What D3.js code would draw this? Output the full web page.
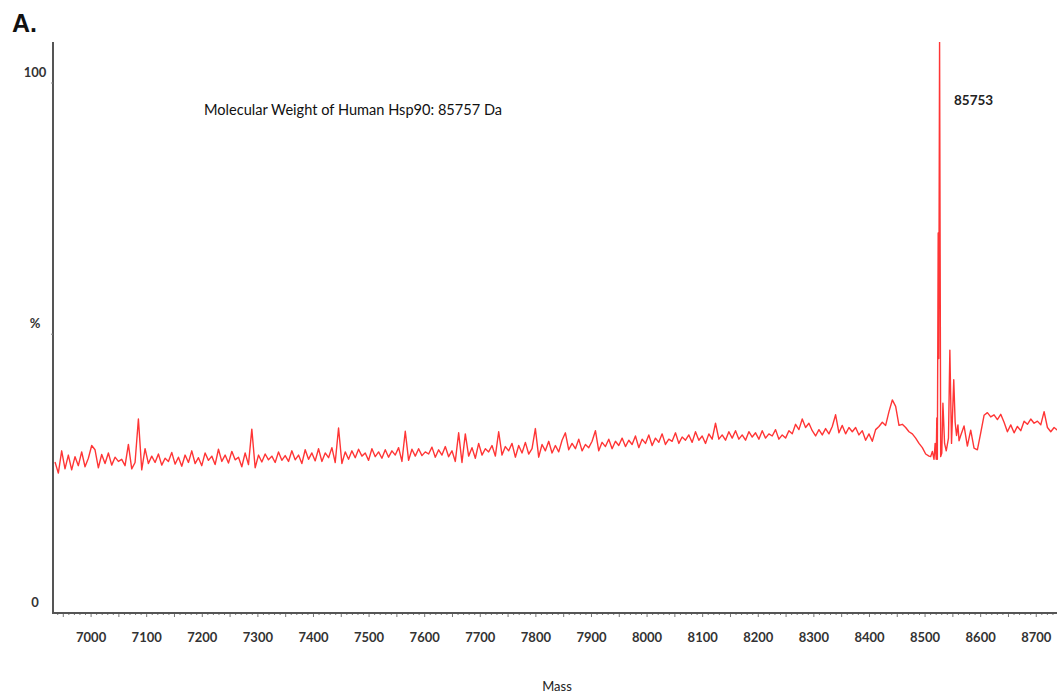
<!DOCTYPE html>
<html>
<head>
<meta charset="utf-8">
<script src="https://cdn.jsdelivr.net/npm/d3@7"></script>
<style>
    body { margin: 0; background: #fff; }
    svg { display: block; }
    .tick-label { font-family: Lato, "Open Sans", sans-serif; font-size: 13px; font-weight: bold; fill: #333; }
    .note { font-family: Lato, "Open Sans", sans-serif; font-size: 13px; fill: #222; }
</style>
</head>
<body>
<svg id="vis1" width="1057" height="695"></svg>
<script>
// mass labels along the bottom
const massTicks = [7000, 7100, 7200, 7300, 7400, 7500, 7600, 7700, 7800,
    7900, 8000, 8100, 8200, 8300, 8400, 8500, 8600, 8700];

// baseline noise, sampled every 6 Da from 6936 Da
var noiseStart = 6936,
    noiseStep = 6;
const noiseValues = [
    28.5, 26.4, 30.6, 27.2, 29.8, 27.0, 29.5, 27.8, 30.4, 27.6,
    29.2, 31.6, 30.8, 27.4, 29.9, 28.2, 30.2, 27.9, 29.4, 28.6,
    29.0, 27.8, 31.8, 27.2, 28.4, 36.6, 27.0, 31.0, 28.2, 29.6,
    28.4, 30.0, 27.9, 29.2, 28.6, 30.3, 28.1, 29.4, 27.7, 29.8,
    28.4, 30.6, 28.2, 29.3, 27.8, 30.2, 28.8, 29.6, 28.0, 30.9,
    28.6, 29.8, 28.3, 30.5, 28.9, 29.4, 27.6, 30.2, 28.0, 34.7,
    27.4, 29.8, 28.5, 30.0, 28.9, 29.6, 28.4, 30.4, 28.8, 29.7,
    28.6, 30.6, 28.9, 29.8, 28.2, 30.8, 29.0, 30.2, 28.7, 31.0,
    28.6, 30.2, 29.3, 31.2, 28.4, 34.9, 28.2, 30.4, 29.0, 30.6,
    29.3, 30.9, 29.6, 30.2, 28.8, 31.0, 29.5, 30.4, 29.2, 30.8,
    29.4, 30.6, 29.8, 31.2, 28.6, 34.3, 28.8, 30.9, 29.6, 31.0,
    29.7, 30.4, 30.0, 31.3, 29.4, 30.8, 29.8, 31.4, 29.5, 30.6,
    28.6, 34.0, 28.4, 33.8, 29.6, 31.2, 29.2, 32.0, 29.8, 31.0,
    30.4, 31.6, 29.6, 34.2, 29.8, 31.4, 30.6, 32.0, 29.4, 31.6,
    30.2, 32.2, 30.0, 31.0, 34.8, 29.4, 31.8, 30.6, 32.4, 30.2,
    31.6, 30.4, 32.6, 34.0, 30.8, 32.0, 31.0, 32.8, 30.6, 31.8,
    31.2, 32.4, 34.4, 30.6, 32.2, 31.4, 32.8, 31.0, 32.4, 31.6,
    33.0, 31.4, 32.6, 31.8, 33.4, 31.2, 32.8, 32.0, 33.6, 31.6,
    33.0, 32.2, 33.8, 31.8, 32.8, 32.4, 34.0, 32.0, 33.2, 32.6,
    33.6, 32.2, 34.2, 32.6, 33.4, 32.0, 33.8, 32.8, 35.8, 32.8,
    33.6, 32.6, 34.2, 33.0, 34.4, 32.8, 33.6, 32.6, 34.2, 33.2,
    34.0, 32.8, 34.4, 33.0, 33.8, 33.4, 34.6, 32.8, 33.6, 33.0,
    34.4, 33.8, 35.6, 34.6, 36.6, 35.0, 35.8, 34.4, 33.4, 34.6,
    33.6, 34.8, 33.8, 35.2, 37.4, 34.0, 35.4, 33.8, 35.0, 34.2,
    35.0, 33.6, 34.4, 32.6, 33.8, 32.4, 34.6, 35.2, 36.0, 35.4,
    38.0, 40.2, 39.0, 35.4, 35.6, 35.0, 34.2, 33.8, 33.0, 32.0,
    31.2, 30.0, 29.6
];

// the Hsp90 peak cluster, read point by point
const peakMass = [8511, 8514, 8517, 8519, 8521, 8522, 8523, 8524.5, 8525.5, 8527,
    8529, 8531, 8533, 8536, 8539, 8543, 8545.5, 8548.5, 8552.5, 8555,
    8557.5, 8560, 8562];
const peakValues = [29.5, 30.5, 29.0, 32.0, 29.0, 36.8, 29.0, 71.7, 48.0, 108,
    29.5, 30.2, 39.6, 32.0, 30.6, 33.0, 49.6, 32.0, 44.0, 36.0,
    33.5, 35.5, 32.5];

// tail after the peak, every 6 Da from 8565 Da
var tailStart = 8565,
    tailStep = 6;
const tailValues = [
    33.5, 35.3, 31.5, 34.5, 31.1, 30.8, 34.0, 37.3, 37.8, 37.0,
    37.4, 36.5, 37.5, 36.0, 34.2, 35.5, 34.0, 35.2, 34.4, 36.2,
    35.6, 36.6, 35.8, 36.2, 35.5, 38.0, 35.0, 34.2, 35.0, 34.5
];

var width = 1057,
    height = 695;

const plot = {
    left: 53,
    right: 1057,
    top: 42,
    bottom: 613
};

var svg = d3.select("body").select("svg#vis1");

function translate(x, y) {
    return "translate(" + String(x) + "," + String(y) + ")";
}

// build the spectrum points
var spectrum = [];
noiseValues.forEach(function(v, i) {
    spectrum.push({mass: noiseStart + i * noiseStep, value: v});
});
peakMass.forEach(function(m, i) {
    spectrum.push({mass: m, value: peakValues[i]});
});
tailValues.forEach(function(v, i) {
    spectrum.push({mass: tailStart + i * tailStep, value: v});
});

// scales: 7400 sits at x=313, about 0.556 px per Da
var x = d3.scaleLinear()
    .domain([6932.4, 8738.2])
    .range([plot.left, plot.right]);

var y = d3.scaleLinear()
    .domain([0, 107.74])
    .range([plot.bottom, plot.top]);

svg.append("defs").append("clipPath")
    .attr("id", "plot-clip")
    .append("rect")
    .attr("x", plot.left + 1)
    .attr("y", plot.top)
    .attr("width", plot.right - plot.left)
    .attr("height", plot.bottom - plot.top);

// spectrum trace
var line = d3.line()
    .x(d => x(d.mass))
    .y(d => y(d.value));

svg.append("path")
    .datum(spectrum)
    .attr("clip-path", "url(#plot-clip)")
    .attr("d", line)
    .attr("fill", "none")
    .attr("stroke", "#ff3535")
    .attr("stroke-width", 1.4)
    .attr("stroke-linejoin", "round");

// minor ticks on the mass axis (every 10 Da, longer every 50)
var minorAxis = d3.axisBottom(x)
    .tickValues(d3.range(6940, 8740, 10))
    .tickSize(2)
    .tickSizeOuter(0)
    .tickFormat("");

var minorG = svg.append("g")
    .attr("transform", translate(0, plot.bottom))
    .call(minorAxis);
minorG.select(".domain").remove();
minorG.selectAll("line")
    .attr("stroke", "#777")
    .attr("y2", d => d % 50 == 0 ? 4 : 2);

// mass labels
var massAxis = d3.axisBottom(x)
    .tickValues(massTicks)
    .tickSize(0)
    .tickPadding(20)
    .tickFormat(d3.format("d"));

var massG = svg.append("g")
    .attr("transform", translate(0, plot.bottom))
    .call(massAxis);
massG.select(".domain").remove();
massG.selectAll("text")
    .attr("class", "tick-label")
    .attr("font-family", null)
    .attr("font-size", null);

// axis lines
svg.append("line")
    .attr("x1", plot.left).attr("x2", plot.right)
    .attr("y1", plot.bottom).attr("y2", plot.bottom)
    .attr("stroke", "#555")
    .attr("stroke-width", 2);

svg.append("line")
    .attr("x1", plot.left).attr("x2", plot.left)
    .attr("y1", plot.top).attr("y2", plot.bottom + 1)
    .attr("stroke", "#555")
    .attr("stroke-width", 2);

// y labels sit a little above their tick
var yLabels = [
    {value: 100, text: "100"},
    {value: 52.6, text: "%"},
    {value: 0, text: "0"}
];

svg.selectAll("text.ylab")
    .data(yLabels)
    .enter()
    .append("text")
    .attr("class", "ylab tick-label")
    .attr("x", 35)
    .attr("y", d => y(d.value) - 11)
    .attr("dy", "0.35em")
    .attr("text-anchor", "middle")
    .text(d => d.text);

svg.selectAll("line.ytick")
    .data([100, 52.6])
    .enter()
    .append("line")
    .attr("class", "ytick")
    .attr("x1", plot.left - 2).attr("x2", plot.left)
    .attr("y1", d => y(d)).attr("y2", d => y(d))
    .attr("stroke", "#888");

// titles and annotations
svg.append("text")
    .attr("x", 12)
    .attr("y", 32)
    .style("font-family", "'Liberation Sans', Arial, sans-serif")
    .style("font-weight", "bold")
    .style("font-size", "25px")
    .style("fill", "#111")
    .text("A.");

svg.append("text")
    .attr("class", "note")
    .attr("x", 557)
    .attr("y", 691)
    .attr("text-anchor", "middle")
    .text("Mass");

svg.append("text")
    .attr("class", "note")
    .attr("x", 204)
    .attr("y", 115)
    .style("font-size", "14.6px")
    .style("fill", "#111")
    .text("Molecular Weight of Human Hsp90: 85757 Da");

svg.append("text")
    .attr("class", "note")
    .attr("x", 954)
    .attr("y", 105)
    .style("font-weight", "bold")
    .style("font-size", "13.5px")
    .text("85753");
</script>
</body>
</html>
